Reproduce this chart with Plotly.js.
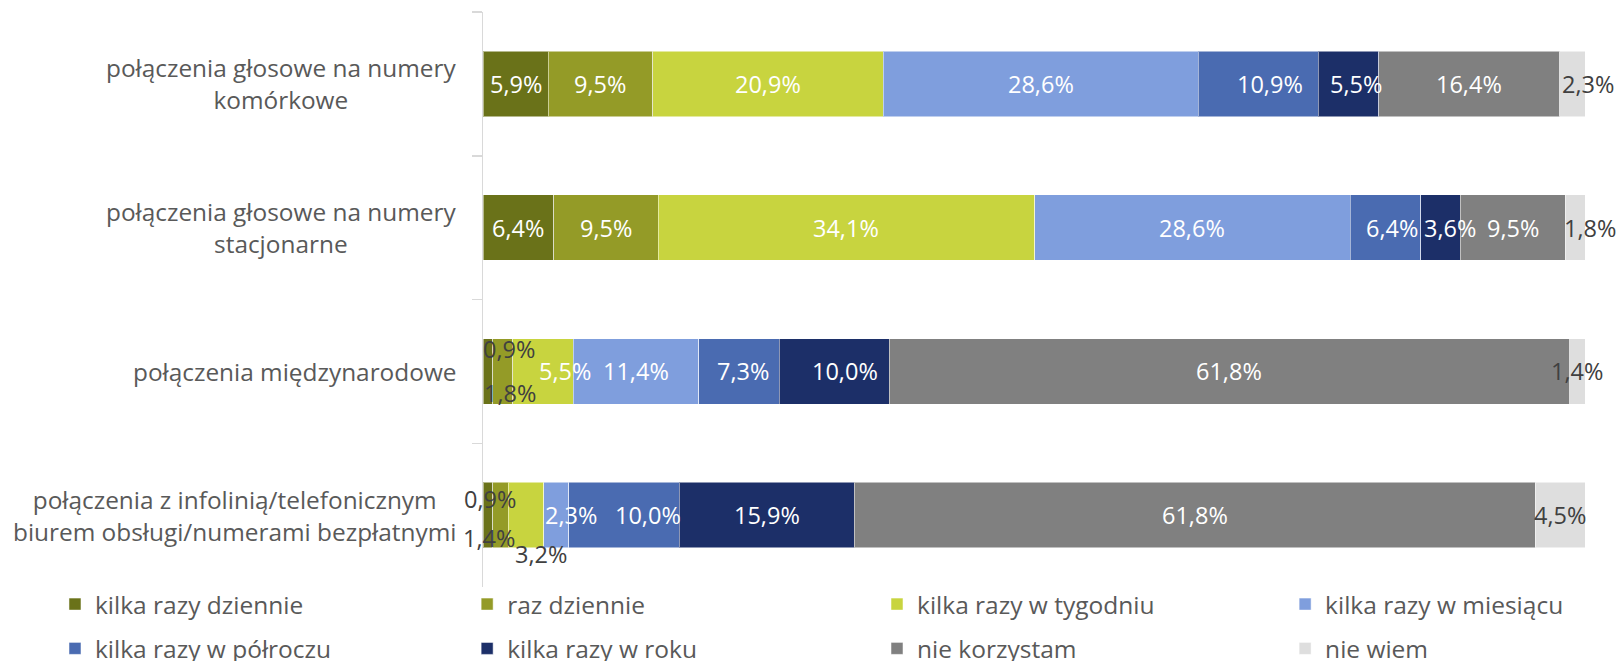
<!DOCTYPE html>
<html>
<head>
<meta charset="utf-8">
<script src="https://cdn.plot.ly/plotly-3.0.1.min.js"></script>
<style>html,body{margin:0;padding:0;background:#fff;}#chart{width:1622px;height:661px;}</style>
</head>
<body>
<div id="chart"></div>
<script>
// ---- data ----
const categories = [
  "połączenia głosowe na numery<br>komórkowe",
  "połączenia głosowe na numery<br>stacjonarne",
  "połączenia międzynarodowe",
  "połączenia z infolinią/telefonicznym<br>biurem obsługi/numerami bezpłatnymi"
];
const seriesNames = ["kilka razy dziennie", "raz dziennie", "kilka razy w tygodniu", "kilka razy w miesiącu",
                     "kilka razy w półroczu", "kilka razy w roku", "nie korzystam", "nie wiem"];
const kilkaRazyDziennie   = [5.9, 6.4, 0.9, 0.9];
const razDziennie         = [9.5, 9.5, 1.8, 1.4];
const kilkaRazyWTygodniu  = [20.9, 34.1, 5.5, 3.2];
const kilkaRazyWMiesiacu  = [28.6, 28.6, 11.4, 2.3];
const kilkaRazyWPolroczu  = [10.9, 6.4, 7.3, 10.0];
const kilkaRazyWRoku      = [5.5, 3.6, 10.0, 15.9];
const nieKorzystam        = [16.4, 9.5, 61.8, 61.8];
const nieWiem             = [2.3, 1.8, 1.4, 4.5];
const seriesValues = [kilkaRazyDziennie, razDziennie, kilkaRazyWTygodniu, kilkaRazyWMiesiacu,
                      kilkaRazyWPolroczu, kilkaRazyWRoku, nieKorzystam, nieWiem];

// ---- styles ----
const colors = ["#6A7219", "#949B27", "#C8D43F", "#7F9EDD", "#4A6BB1", "#1C2F68", "#808080", "#DEDEDE"];
const FONT = "Open Sans, sans-serif";
const labelColor = ["#FFFFFF", "#FFFFFF", "#FFFFFF", "#FFFFFF", "#FFFFFF", "#FFFFFF", "#FFFFFF", "#404040"];
// label offsets "row-series" -> [xshift, yshift, color override]
const labelOffsets = {
  "0-4": [12, 0],
  "0-5": [7, 0],
  "0-7": [16, 0],
  "1-4": [7, 0],
  "1-5": [10, 0],
  "1-7": [15, 0],
  "2-0": [21, 22, "#404040"],
  "2-1": [7, -22, "#404040"],
  "2-2": [22, 0],
  "2-4": [4, 0],
  "2-5": [11, 0],
  "3-0": [2, 16, "#404040"],
  "3-1": [-12, -23, "#404040"],
  "3-2": [15, -39, "#404040"],
  "3-3": [15, 0],
  "3-4": [24, 0]
};
// legend grid: 4 columns x 2 rows, one legend box per entry
const legendColX = [0.0339, 0.2880, 0.5407, 0.7923];
const legendRowY = [0.120, 0.053];

const fmt = v => v.toFixed(1).replace(".", ",") + "%";

const traces = seriesNames.map((name, j) => ({
  type: "bar",
  orientation: "h",
  name: name,
  y: categories,
  x: seriesValues[j],
  legend: j === 0 ? "legend" : "legend" + (j + 1),
  marker: {color: colors[j], line: {color: "rgba(255,255,255,0.5)", width: 1}},
  hoverinfo: "skip"
}));

const annotations = [];
categories.forEach((cat, i) => {
  const total = seriesValues.reduce((s, arr) => s + arr[i], 0);
  let cum = 0;
  seriesValues.forEach((arr, j) => {
    const v = arr[i];
    const center = (cum + v / 2) / total * 100;
    cum += v;
    const off = labelOffsets[i + "-" + j] || [0, 0];
    annotations.push({
      x: center, y: cat, xref: "x", yref: "y",
      text: fmt(v), showarrow: false,
      xshift: off[0], yshift: off[1],
      font: {family: FONT, size: 23.5, color: off[2] || labelColor[j]}
    });
  });
  annotations.push({
    x: 0, xref: "paper", xshift: -25, xanchor: "right",
    y: cat, yref: "y", text: cat, showarrow: false, align: "center",
    font: {family: FONT, size: 24.4, color: "#595959"}
  });
});

const layout = {
  width: 1622, height: 661,
  margin: {l: 483, r: 37, t: 12, b: 74, autoexpand: false},
  paper_bgcolor: "#ffffff", plot_bgcolor: "#ffffff",
  barmode: "stack", barnorm: "percent", bargap: 0.546,
  showlegend: true,
  xaxis: {visible: false, range: [0, 100], fixedrange: true},
  yaxis: {
    type: "category", autorange: "reversed", showticklabels: false,
    showline: true, linecolor: "#D9D9D9", linewidth: 1.5,
    ticks: "outside", tickson: "boundaries", ticklen: 10, tickcolor: "#D9D9D9", tickwidth: 1.5,
    showgrid: false, zeroline: false
  },
  annotations: annotations,
  font: {family: FONT}
};
seriesNames.forEach((name, j) => {
  const id = j === 0 ? "legend" : "legend" + (j + 1);
  layout[id] = {
    orientation: "h", xref: "container", yref: "container",
    x: legendColX[j % 4], xanchor: "left",
    y: legendRowY[Math.floor(j / 4)], yanchor: "top",
    bgcolor: "rgba(0,0,0,0)",
    font: {family: FONT, size: 24.5, color: "#595959"}
  };
});

Plotly.newPlot("chart", traces, layout, {staticPlot: true, displayModeBar: false});
</script>
</body>
</html>
